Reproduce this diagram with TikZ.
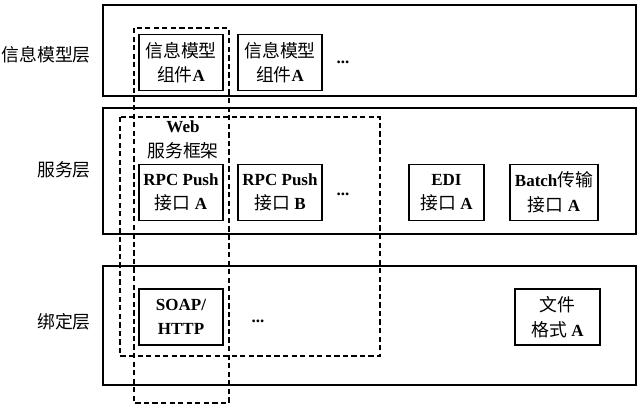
\documentclass[tikz,border=0pt]{standalone}
\usepackage{fontspec}
\setmainfont{Liberation Serif}
\newfontfamily\cjk[Scale=1.05]{Noto Sans CJK SC}
\newcommand{\zh}[1]{{\cjk\mdseries #1}}
\usetikzlibrary{positioning}

\tikzset{
  txt/.style={font=\fontsize{14.5}{21}\selectfont\bfseries, align=center, inner sep=0pt},
  compbox/.style={txt, draw, line width=1.1pt, minimum width=25.2mm, minimum height=16.8mm},
  layerlabel/.style={font=\fontsize{14.5}{20.5}\selectfont\cjk, anchor=east, inner sep=0pt},
  dashbox/.style={line width=1.1pt, dash pattern=on 4.5pt off 2.8pt},
}

\begin{document}
\begin{tikzpicture}[x=0.3mm, y=-0.3mm]
  \useasboundingbox (0,0) rectangle (640,406);
  % layers
  \draw[line width=1.1pt] (103,5) rectangle (636,96);
  \draw[line width=1.1pt] (103,108) rectangle (636,234);
  \draw[line width=1.1pt] (103,266) rectangle (636,385);
  \node[layerlabel] (lInfo) at (91,55) {信息模型层};
  \node[layerlabel] (lSrv) at (91,170) {服务层};
  \node[layerlabel] (lBind) at (91,322) {绑定层};
  % information model layer
  \node[compbox] (infoA) at (181,62.5) {\zh{信息模型}\\\zh{组件}A};
  \node[compbox] (infoB) at (280,62.5) {\zh{信息模型}\\\zh{组件}A};
  \node[txt] (dotsI) at (343,62) {...};
  % service layer
  \node[txt] (web) at (183,140) {Web\\\zh{服务框架}};
  \node[compbox] (rpcA) at (181,192.5) {RPC Push\\\zh{接口} A};
  \node[compbox] (rpcB) at (280,192.5) {RPC Push\\\zh{接口} B};
  \node[txt] (dotsS) at (343,194) {...};
  \node[compbox, minimum width=22.5mm] (edi) at (446.5,192.5) {EDI\\\zh{接口} A};
  \node[compbox, minimum width=26.4mm] (batch) at (554,192.5) {Batch\zh{传输}\\\zh{接口} A};
  % binding layer
  \node[compbox] (soap) at (181,317) {SOAP/\\HTTP};
  \node[txt] (dotsB) at (258,321) {...};
  \node[compbox, minimum width=25.5mm] (file) at (557.5,317) {\zh{文件}\\\zh{格式} A};
  % web service framework
  \draw[dashbox] (134,28) rectangle (229,403);
  \draw[dashbox] (120,117) rectangle (380,356);
\end{tikzpicture}
\end{document}
